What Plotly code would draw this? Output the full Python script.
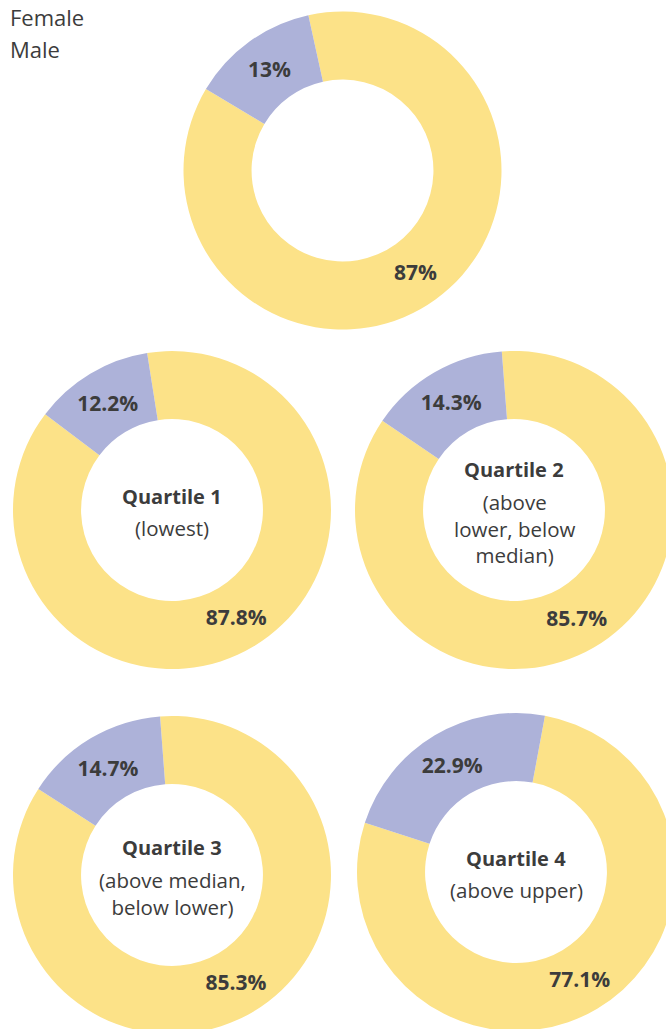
import plotly.graph_objects as go

# ---- data ----
series_labels = ["Female", "Male"]
overall_values = [87, 13]
quartile_names = ["Quartile 1", "Quartile 2", "Quartile 3", "Quartile 4"]
quartile_subtitles = [["(lowest)"],
                      ["(above", "lower, below", "median)"],
                      ["(above median,", "below lower)"],
                      ["(above upper)"]]
female_pct = [87.8, 85.7, 85.3, 77.1]
male_pct = [12.2, 14.3, 14.7, 22.9]

# ---- style / layout ----
W, H = 680, 1045
R = 159
COLORS = ["#FCE288", "#ADB2D9"]
TXT = "#3c3c3c"
FONT = "Open Sans"
SUB_SIZE = 20.5
LINE = SUB_SIZE * 1.3

# pixel centres and start rotations for each donut
centres = [(342.5, 170.5), (172, 510), (514, 510), (172, 875), (516, 872)]
rotations = [-12.4, -9, -4.4, -4.3, 10.5]

def dom(cx, cy):
    return dict(x=[(cx - R) / W, (cx + R) / W],
                y=[1 - (cy + R) / H, 1 - (cy - R) / H])

all_values = [overall_values] + [[f, m] for f, m in zip(female_pct, male_pct)]

fig = go.Figure()
for i, (vals, (cx, cy), rot) in enumerate(zip(all_values, centres, rotations)):
    fig.add_trace(go.Pie(
        labels=series_labels, values=vals, sort=False, direction="clockwise",
        rotation=rot, hole=0.572, domain=dom(cx, cy),
        marker=dict(colors=COLORS, line=dict(width=0)),
        texttemplate="<b>%{percent}</b>", textposition="inside",
        insidetextorientation="horizontal",
        textfont=dict(family=FONT, size=21, color=TXT),
        showlegend=(i == 0), hoverinfo="label+percent",
    ))

# centre captions
for (cx, cy), name, sub in zip(centres[1:], quartile_names, quartile_subtitles):
    n = len(sub)
    block = 32 + (n - 1) * LINE
    ty = cy - block / 2 + 2
    sy = ty + 32 + (n - 1) * LINE / 2
    fig.add_annotation(x=cx / W, y=1 - ty / H, xref="paper", yref="paper",
                       text=f"<b>{name}</b>", showarrow=False,
                       font=dict(family=FONT, size=20, color=TXT),
                       xanchor="center", yanchor="middle")
    fig.add_annotation(x=cx / W, y=1 - sy / H, xref="paper", yref="paper",
                       text="<br>".join(sub), showarrow=False, align="center",
                       font=dict(family=FONT, size=SUB_SIZE, color=TXT),
                       xanchor="center", yanchor="middle")

fig.update_layout(
    width=W, height=H,
    margin=dict(l=0, r=0, t=0, b=0, autoexpand=False),
    paper_bgcolor="white", plot_bgcolor="white",
    uniformtext=dict(minsize=21, mode="show"),
    legend=dict(x=-30 / W, y=1 + 3 / H, xanchor="left", yanchor="top",
                font=dict(family=FONT, size=22, color=TXT),
                bgcolor="rgba(0,0,0,0)", traceorder="normal"),
    font=dict(family=FONT, color=TXT),
)

fig.write_html("out.html", post_script="document.body.style.overflow='hidden';")
